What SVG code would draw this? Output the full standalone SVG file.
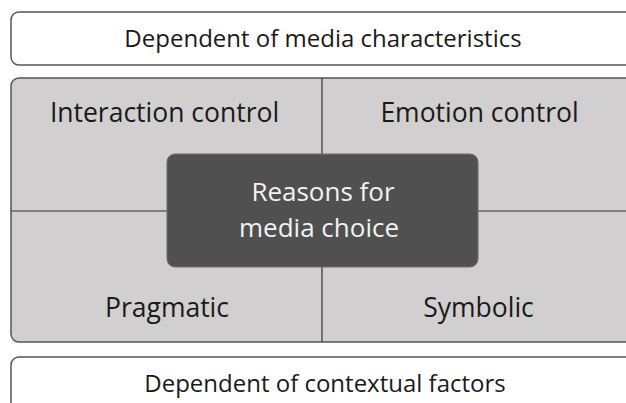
<svg xmlns="http://www.w3.org/2000/svg" width="626" height="403" viewBox="0 0 626 403">
<style>
.box{fill:#ffffff;stroke:#555555;stroke-width:1.5}
.panel{fill:#d1cfd0;stroke:#555555;stroke-width:1.5}
.div{stroke:#333333;stroke-width:1.2}
.core{fill:#505050;stroke:#6e6e6e;stroke-width:1}
.t{font-family:"Open Sans","Noto Sans","Liberation Sans",sans-serif;fill:#1a1a1a;text-anchor:middle}
.tw{font-family:"Open Sans","Noto Sans","Liberation Sans",sans-serif;fill:#f2f2f2;text-anchor:middle}
</style>
<rect width="626" height="403" fill="#ffffff"/>
<g id="media-characteristics">
<rect class="box" x="11" y="12" width="640" height="53" rx="8"/>
<text class="t" x="323" y="47" font-size="24">Dependent of media characteristics</text>
</g>
<g id="panel">
<rect class="panel" x="11" y="78" width="640" height="264" rx="8"/>
</g>
<g id="dividers">
<line class="div" x1="11" y1="211" x2="626" y2="211"/>
<line class="div" x1="322" y1="78" x2="322" y2="342"/>
</g>
<g id="interaction-control">
<text class="t" x="164.5" y="122" font-size="26.5">Interaction control</text>
</g>
<g id="emotion-control">
<text class="t" x="479.5" y="122" font-size="26.5">Emotion control</text>
</g>
<g id="pragmatic">
<text class="t" x="167" y="317" font-size="26.5">Pragmatic</text>
</g>
<g id="symbolic">
<text class="t" x="478.5" y="317" font-size="26.5">Symbolic</text>
</g>
<g id="reasons">
<rect class="core" x="167" y="154" width="311" height="113" rx="8"/>
<text class="tw" x="323" y="201" font-size="26">Reasons for</text>
<text class="tw" x="319" y="237" font-size="26">media choice</text>
</g>
<g id="contextual-factors">
<rect class="box" x="11" y="357" width="640" height="60" rx="8"/>
<text class="t" x="325" y="392" font-size="24">Dependent of contextual factors</text>
</g>
</svg>
